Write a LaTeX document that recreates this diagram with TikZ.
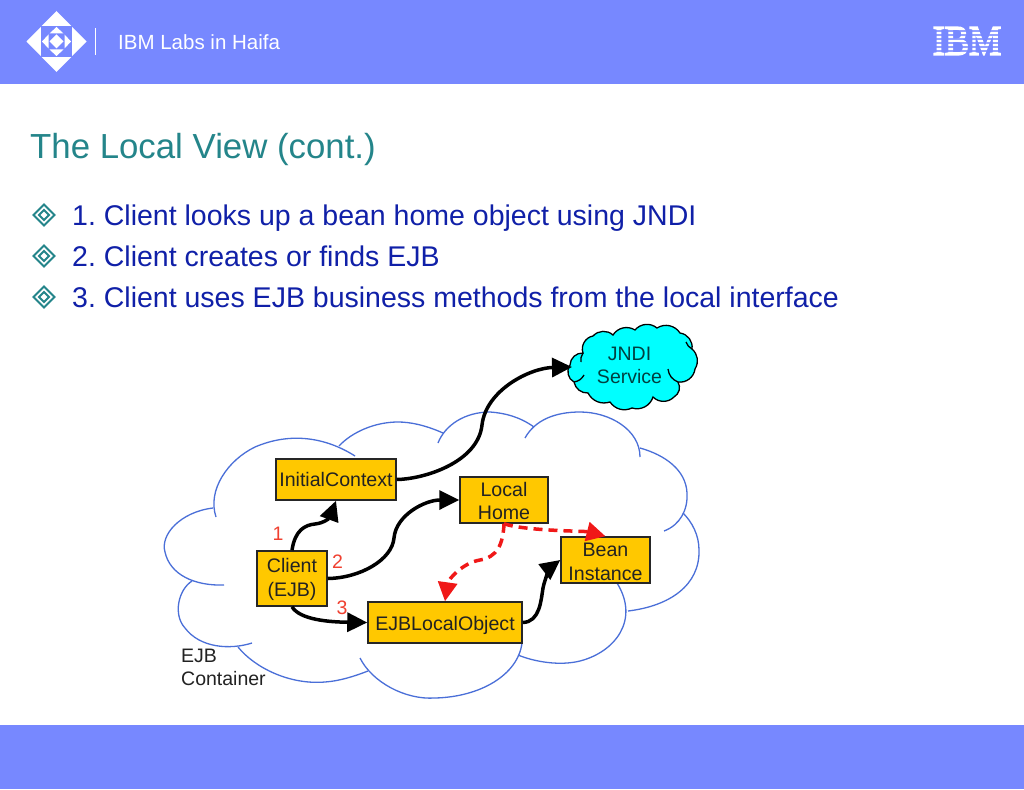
\documentclass[tikz,border=0pt]{standalone}
\usepackage{fontspec}
\setmainfont{Liberation Sans}
\newfontfamily\ibmfont[FakeBold=4]{Liberation Serif}
\frenchspacing
\usetikzlibrary{arrows.meta}
\definecolor{band}{HTML}{7788FF}
\definecolor{titlec}{HTML}{24858A}
\definecolor{bulletc}{HTML}{1020A8}
\definecolor{boxc}{HTML}{FFC800}
\definecolor{cloudc}{HTML}{4A6FD8}
\definecolor{cyanc}{HTML}{00FFFF}
\definecolor{redc}{HTML}{F01818}
\definecolor{numc}{HTML}{F04030}
\definecolor{inkc}{HTML}{222222}
\newcommand{\dnline}[2]{\raisebox{-#1pt}[\height][\depth]{#2}}
\tikzset{
  boxnode/.style={draw=black!85,line width=1.5pt,fill=boxc,inner sep=0pt,align=center,text=inkc,font=\fontsize{19.6}{24}\selectfont},
  flow/.style={draw=black,line width=3.5pt,-{Triangle[length=20pt,width=19pt]}},
  reddash/.style={draw=redc,line width=3.5pt,dash pattern=on 9pt off 6pt,-{Triangle[length=19pt,width=19pt]}},
  cloudline/.style={draw=cloudc,line width=1.3pt},
  numlabel/.style={text=numc,font=\fontsize{19.5}{23}\selectfont,inner sep=0pt},
  bulletline/.style={anchor=base west,text=bulletc,font=\fontsize{28.5}{32}\selectfont,inner sep=0pt},
  bulletmark/.style={draw=titlec,line width=1.8pt},
}
\begin{document}
\begin{tikzpicture}[x=1pt,y=-1pt]
\useasboundingbox (0,0) rectangle (1024,789);
\fill[white] (0,0) rectangle (1024,789);
% bands
\fill[band] (0,0) rectangle (1024,84);
\fill[band] (0,725) rectangle (1024,789);
% logo
\fill[white] (56.5,11) -- (86.5,41.5) -- (56.5,72) -- (26.5,41.5) -- cycle;
\fill[band] (41,26) rectangle (72,57);
\fill[white] (56.5,27) -- (63.5,33.5) -- (49.5,33.5) -- cycle;
\fill[white] (56.5,56) -- (63.5,49.5) -- (49.5,49.5) -- cycle;
\fill[white] (42,41.5) -- (48.5,34.5) -- (48.5,48.5) -- cycle;
\fill[white] (71,41.5) -- (64.5,34.5) -- (64.5,48.5) -- cycle;
\fill[white] (56.5,34.5) -- (63.5,41.5) -- (56.5,48.5) -- (49.5,41.5) -- cycle;
\draw[white,line width=1pt] (95,28) -- (95,55);
\node[anchor=base west,text=white,font=\fontsize{20.5}{24}\selectfont,inner sep=0pt] (lab) at (118,50) {IBM Labs in Haifa};
% IBM mark
\node[anchor=center,text=white,inner sep=0pt,font=\fontsize{42}{44}\selectfont,xscale=0.86] (ibm) at (967,41) {\ibmfont IBM};
\foreach \yy in {30.5,34.5,38.5,42.5,46.5,50.5}{\fill[band,opacity=0.8] (925,\yy) rectangle (1010,\yy+1.2);}
% title
\node[anchor=base west,text=titlec,font=\fontsize{34.8}{40}\selectfont,inner sep=0pt] (title) at (30,158) {The Local View (cont.)};
% bullets
\foreach \yy in {215,256,297}{
  \draw[bulletmark] (44,\yy-10.5) -- (54.5,\yy) -- (44,\yy+10.5) -- (33.5,\yy) -- cycle;
  \draw[bulletmark] (44,\yy-5) -- (49,\yy) -- (44,\yy+5) -- (39,\yy) -- cycle;
}
\node[bulletline] (b1) at (72,225) {1. Client looks up a bean home object using JNDI};
\node[bulletline] (b2) at (72,266) {2. Client creates or finds EJB};
\node[bulletline] (b3) at (72,307) {3. Client uses EJB business methods from the local interface};
% container cloud
\begin{scope}[cloudline]
\draw (355,456) .. controls (325,437) and (290,432) .. (255,447) .. controls (228,460) and (207,490) .. (216,517);
\draw (213,508) .. controls (180,512) and (160,535) .. (165,552) .. controls (170,575) and (195,586) .. (224,585);
\draw (192,581) .. controls (178,590) and (173,615) .. (185,628) .. controls (200,648) and (230,650) .. (252,643);
\draw (238,647) .. controls (255,668) and (290,685) .. (325,682) .. controls (340,681) and (355,676) .. (368,671);
\draw (360,658) .. controls (372,682) and (405,700) .. (435,698) .. controls (480,697) and (518,675) .. (522,643);
\draw (518,655) .. controls (535,662) and (560,666) .. (580,661) .. controls (615,652) and (640,620) .. (617,583);
\draw (628,611) .. controls (670,606) and (700,585) .. (699,550) .. controls (699,535) and (692,522) .. (683,513);
\draw (664,531) .. controls (680,525) and (688,510) .. (687,493) .. controls (686,470) and (665,455) .. (640,448);
\draw (640,457) .. controls (640,430) and (610,412) .. (580,412) .. controls (555,412) and (535,420) .. (525,438);
\draw (534,427) .. controls (520,417) and (505,413) .. (490,412) .. controls (465,412) and (445,425) .. (438,443);
\draw (443,433) .. controls (425,425) and (410,422) .. (398,422) .. controls (375,422) and (352,432) .. (339,446);
\end{scope}
% JNDI cloud
\path[fill=cyanc,draw=black,line width=1.3pt]
  (570,365) to[bend left=45] (583,353) to[bend left=50] (593,336) to[bend left=45] (613,335)
  to[bend left=45] (635,330) to[bend left=45] (657,328) to[bend left=45] (680,333)
  to[bend left=45] (692,349) to[bend left=40] (695,369) to[bend left=45] (678,382)
  to[bend left=45] (674,397) to[bend left=45] (653,397) to[bend left=45] (632,408)
  to[bend left=40] (610,402) to[bend left=40] (588,393) to[bend left=40] (574,382)
  to[bend left=50] (570,365) -- cycle;
\draw[black,line width=1.3pt] (678,382) to[bend left=30] (668,369);
\draw[black,line width=1.3pt] (692,349) to[bend left=20] (686,342);
\draw[black,line width=1.3pt] (583,353) to[bend right=20] (581,362);
\draw[black,line width=1.3pt] (574,382) to[bend right=25] (584,375);
\node[align=center,inner sep=0pt,minimum width=115pt,minimum height=40pt,text=black!75!cyanc,font=\fontsize{19.5}{23}\selectfont] (jndi) at (629.5,365) {JNDI\\Service};
\coordinate (jndiwest) at (572,367);
% boxes
\node[boxnode,minimum width=120pt,minimum height=41pt] (ic) at (336,479.5) {InitialContext};
\node[boxnode,minimum width=70pt,minimum height=55pt] (client) at (292,578.5) {\dnline{1}{Client}\\\dnline{1}{(EJB)}};
\node[boxnode,minimum width=154pt,minimum height=41pt] (ejb) at (445,622.5) {\dnline{3}{EJBLocalObject}};
\node[boxnode,minimum width=88pt,minimum height=46pt] (lh) at (504,500) {\dnline{1}{Local}\\Home};
\node[boxnode,minimum width=89pt,minimum height=46pt] (bean) at (605.5,560) {\dnline{2}{Bean}\\\dnline{2}{Instance}};
% connectors
\draw[flow] (ic.east) .. controls (425,479) and (478,462) .. (482,425) .. controls (486,390) and (530,368) .. (jndiwest);
\draw[flow] (client.north) .. controls (295,530) and (305,525) .. (315,524) .. controls (325,523) and (330,517) .. (ic.south);
\draw[flow] (client.east) .. controls (360,578) and (392,560) .. (394,538) .. controls (396,515) and (425,500) .. (lh.west);
\draw[flow] (client.south) .. controls (300,620) and (330,622) .. (ejb.west);
\draw[flow] (ejb.east) .. controls (540,622) and (541,600) .. (543,588) .. controls (545,578) and (551,567) .. (bean.west);
\draw[reddash] (lh.south) .. controls (525,531) and (585,531) .. (bean.north);
\draw[reddash] (lh.south) .. controls (503,545) and (497,557) .. (480,560) .. controls (462,563) and (448,580) .. (ejb.north);
% labels
\node[numlabel] (n1) at (278,534) {1};
\node[numlabel] (n2) at (337.5,561.5) {2};
\node[numlabel] (n3) at (342,608) {3};
\node[anchor=west,align=left,inner sep=0pt,text=inkc,font=\fontsize{19.5}{23}\selectfont] (cont) at (181,667) {EJB\\Container};
\end{tikzpicture}
\end{document}
